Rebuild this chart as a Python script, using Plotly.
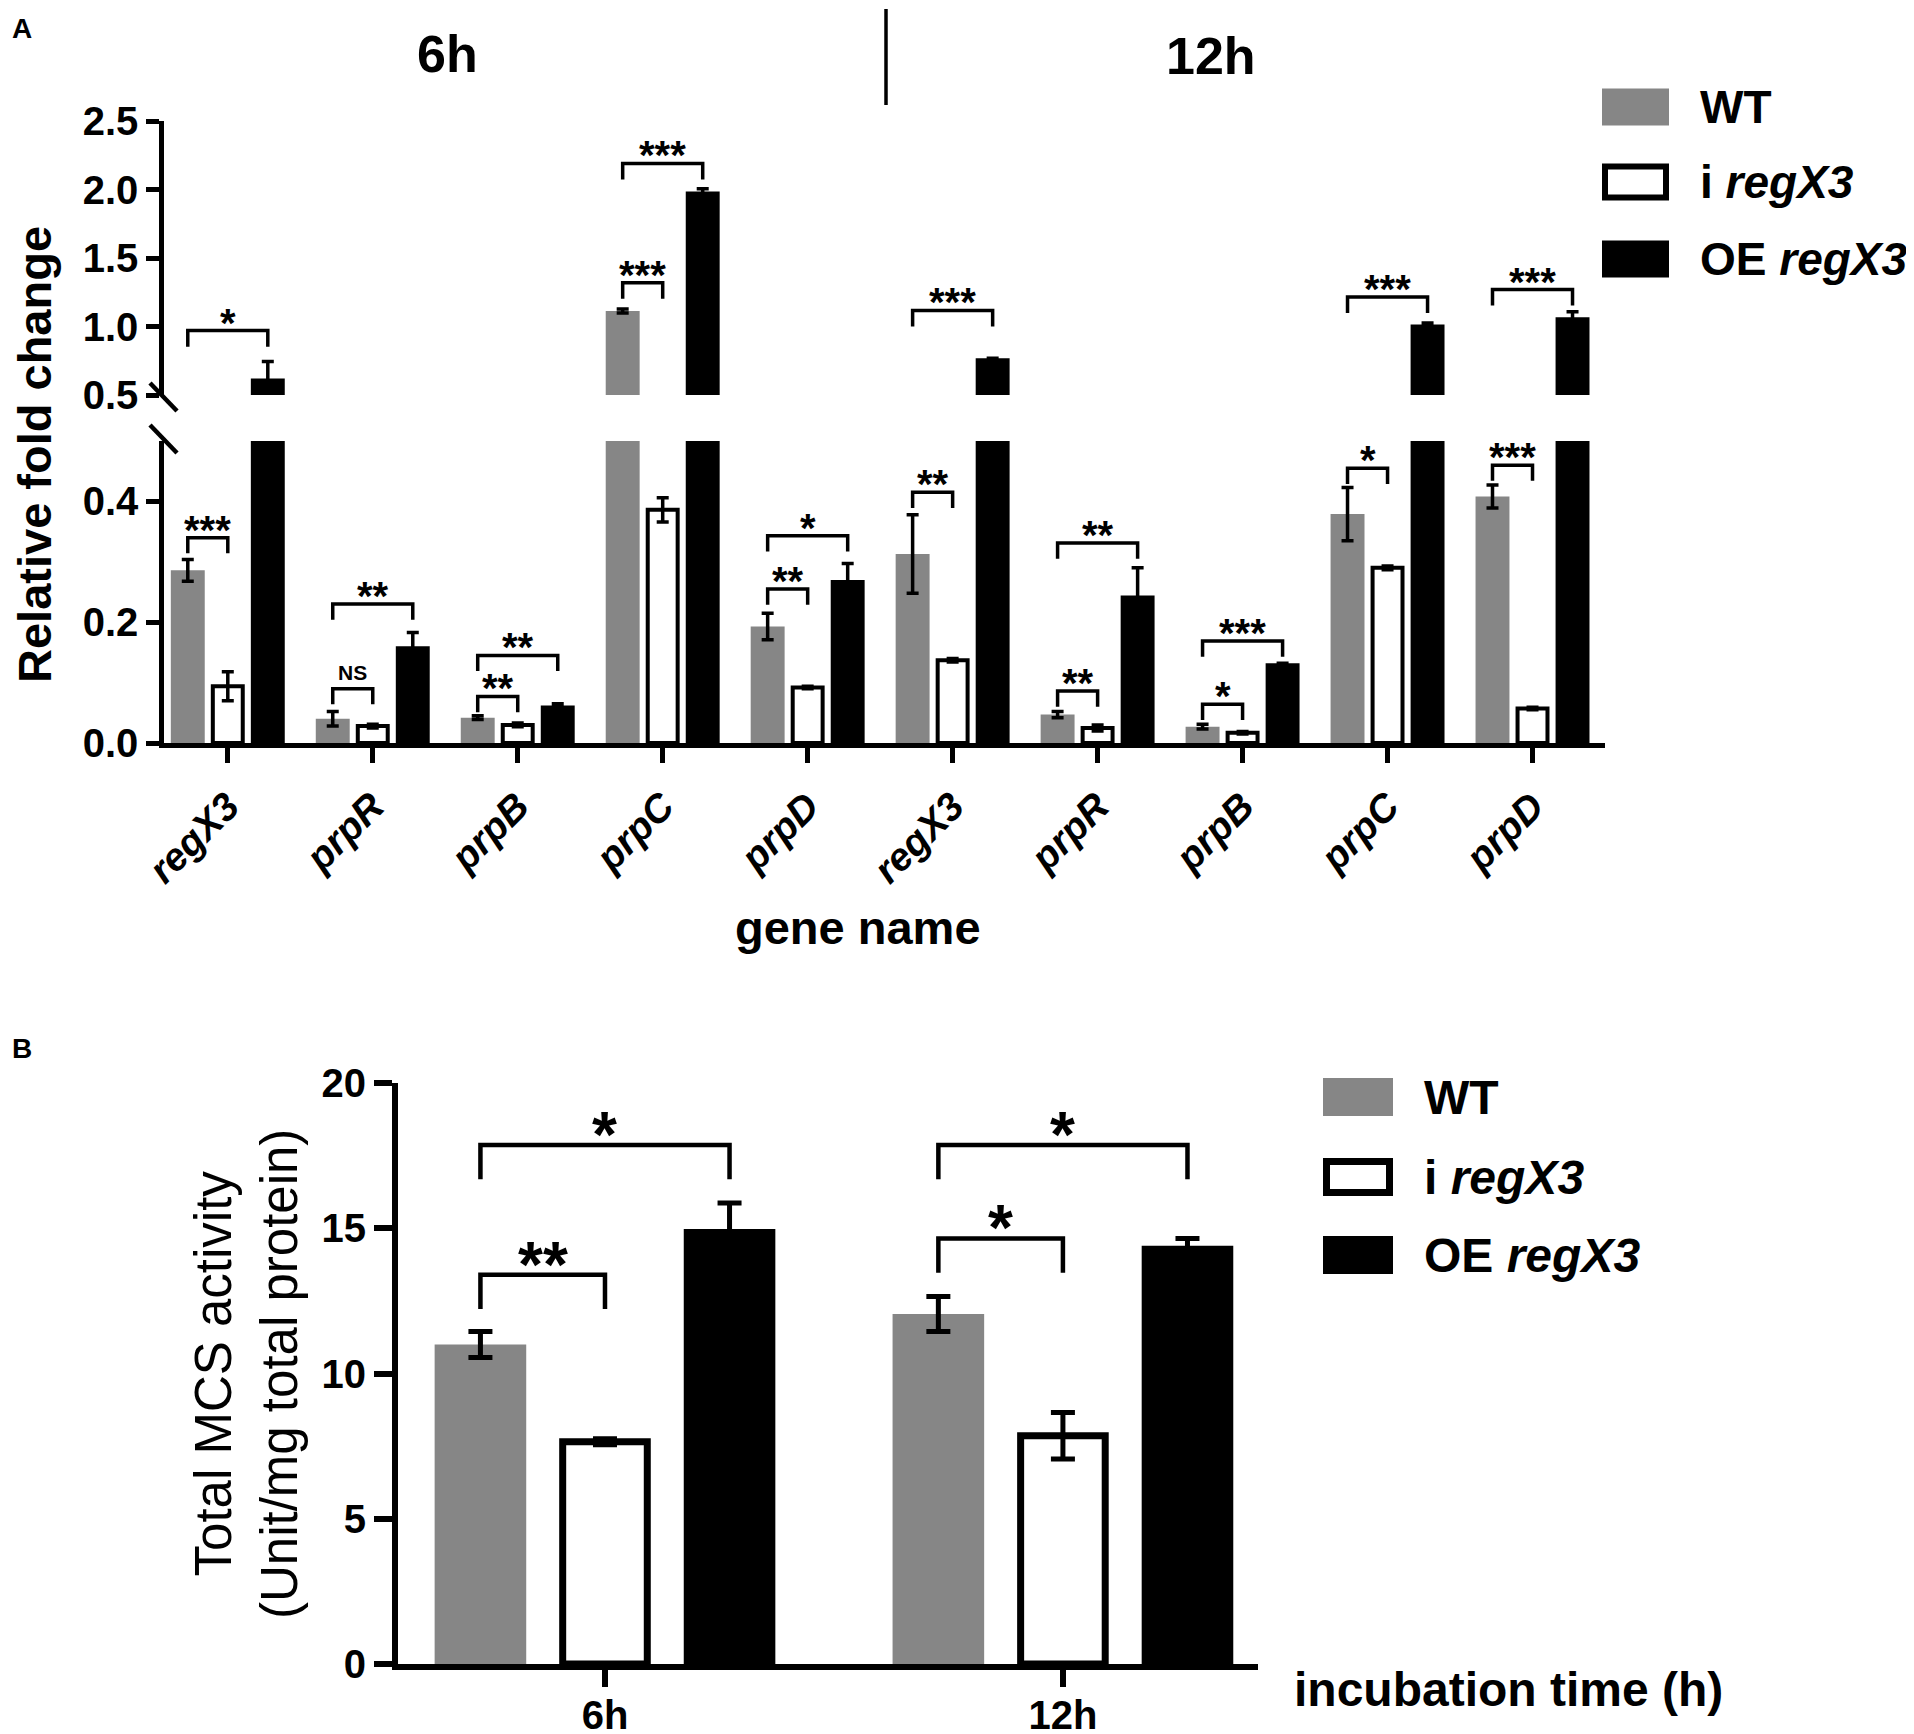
import plotly.graph_objects as go

W, H = 1914, 1734
PAD = 8  # the page body margin shifts the figure by this many pixels
FONT = 'Liberation Sans, Arial, sans-serif'
GRAY = '#868686'

# ---- panel A: relative fold change (6h | 12h) ----
genes = ['regX3', 'prpR', 'prpB', 'prpC', 'prpD', 'regX3', 'prpR', 'prpB', 'prpC', 'prpD']
a_wt = [0.286, 0.040, 0.042, 1.113, 0.193, 0.313, 0.047, 0.027, 0.379, 0.408]
a_wt_err = [0.018, 0.012, 0.003, 0.015, 0.022, 0.065, 0.005, 0.004, 0.044, 0.019]
a_i = [0.094, 0.028, 0.030, 0.386, 0.092, 0.137, 0.025, 0.017, 0.290, 0.057]
a_i_err = [0.024, 0.003, 0.003, 0.020, 0.002, 0.003, 0.005, 0.002, 0.003, 0.002]
a_oe = [0.62, 0.160, 0.062, 1.986, 0.270, 0.768, 0.244, 0.132, 1.015, 1.068]
a_oe_err = [0.125, 0.023, 0.003, 0.020, 0.027, 0.0, 0.046, 0.0, 0.010, 0.040]

# brackets: gene index, compared group (1 = i regX3, 2 = OE regX3), level, label
a_br_cat = [0, 0, 1, 1, 2, 2, 3, 3, 4, 4, 5, 5, 6, 6, 7, 7, 8, 8, 9, 9]
a_br_grp = [1, 2, 1, 2, 1, 2, 1, 2, 1, 2, 1, 2, 1, 2, 1, 2, 1, 2, 1, 2]
a_br_lvl = [0.340, 0.97, 0.090, 0.230, 0.077, 0.145, 1.32, 2.19, 0.255, 0.343,
            0.415, 1.117, 0.086, 0.331, 0.064, 0.169, 0.455, 1.216, 0.460, 1.27]
a_br_txt = ['***', '*', 'NS', '**', '**', '**', '***', '***', '**', '*',
            '**', '***', '**', '**', '*', '***', '*', '***', '***', '***']

# ---- panel B: total MCS activity ----
b_times = ['6h', '12h']
b_wt = [11.0, 12.05]
b_wt_err = [0.45, 0.6]
b_i = [7.65, 7.86]
b_i_err = [0.1, 0.8]
b_oe = [14.97, 14.40]
b_oe_err = [0.9, 0.25]

b_br_cat = [0, 0, 1, 1]
b_br_grp = [1, 2, 1, 2]
b_br_lvl = [13.4, 17.87, 14.65, 17.87]
b_br_txt = ['**', '*', '*', '*']

legend_names = ['WT', 'i <i>regX3</i>', 'OE <i>regX3</i>']


def px(x):
    return (x - PAD) / W


def py(y):
    return 1 - (y - PAD) / H


fig = go.Figure()

series_a = [(GRAY, a_wt, a_wt_err), ('white', a_i, a_i_err), ('black', a_oe, a_oe_err)]
series_b = [(GRAY, b_wt, b_wt_err), ('white', b_i, b_i_err), ('black', b_oe, b_oe_err)]


def add_bars(series, xs, xa, yaxes, slot, bw, lw, unit_px, err_th, err_w):
    for i, (fill, vals, errs) in enumerate(series):
        white = fill == 'white'
        w = bw - (lw / unit_px if white else 0)
        off = (i - 1) * slot - w / 2
        for ya in yaxes:
            fig.add_trace(go.Bar(
                x=xs, y=vals, xaxis=xa, yaxis=ya, width=w, offset=off,
                marker=dict(color=fill, line=dict(color='black', width=lw if white else 0)),
                error_y=dict(type='data', array=errs, color='black', thickness=err_th, width=err_w),
                showlegend=False))


slot_a = 0.276
add_bars(series_a, list(range(10)), 'x', ['y', 'y2'], slot_a, 0.234, 4, 145, 3.5, 6)
slot_b = 0.272
add_bars(series_b, [0, 1], 'x3', ['y3'], slot_b, 0.2, 7, 458, 5, 12)


def bracket(xref, yref, x0, x1, y, drop, label, size, lw, yshift):
    fig.add_shape(type='path', xref=xref, yref=yref,
                  path=f'M {x0},{y - drop} L {x0},{y} L {x1},{y} L {x1},{y - drop}',
                  line=dict(color='black', width=lw))
    fig.add_annotation(x=(x0 + x1) / 2, y=y, xref=xref, yref=yref, text=f'<b>{label}</b>',
                       showarrow=False, xanchor='center', yanchor='bottom', yshift=yshift,
                       font=dict(size=size, family=FONT, color='black'))


for c, g, lvl, t in zip(a_br_cat, a_br_grp, a_br_lvl, a_br_txt):
    hi = lvl > 0.5
    drop = 0.117 if hi else 0.026
    if t == 'NS':
        size, shift = 21, 3
    else:
        size, shift = 40, -16
    bracket('x', 'y2' if hi else 'y', c - slot_a, c + (g - 1) * slot_a, lvl, drop, t, size, 3.5, shift)

for c, g, lvl, t in zip(b_br_cat, b_br_grp, b_br_lvl, b_br_txt):
    bracket('x3', 'y3', c - slot_b, c + (g - 1) * slot_b, lvl, 1.18, t, 64, 4.5, -28)

axis = dict(showline=True, linecolor='black', showgrid=False, zeroline=False,
            ticks='outside', tickcolor='black', automargin=False)
tick_font = dict(family=FONT, size=40, color='black', weight='bold')

fig.update_layout(
    width=W, height=H, margin=dict(l=0, r=0, t=0, b=0, autoexpand=False),
    plot_bgcolor='white', paper_bgcolor='white', barmode='overlay', showlegend=False,
    font=dict(family=FONT, color='black'),
    xaxis=dict(axis, domain=[px(164), px(1605)], anchor='y', range=[-0.44, 9.5],
               tickvals=list(range(10)), ticktext=genes, tickangle=-45,
               tickfont=dict(family=FONT, size=39, color='black', weight='bold', style='italic'),
               linewidth=4.5, tickwidth=4.5, ticklen=15, ticklabelstandoff=5),
    yaxis=dict(axis, domain=[py(743), py(441)], anchor='x', range=[0, 0.5],
               tickvals=[0, 0.2, 0.4], tickformat='.1f', tickfont=tick_font,
               linewidth=4.5, tickwidth=4.5, ticklen=13),
    yaxis2=dict(axis, domain=[py(395), py(121)], anchor='x', range=[0.5, 2.5],
                tickvals=[0.5, 1, 1.5, 2, 2.5], tickformat='.1f', tickfont=tick_font,
                linewidth=4.5, tickwidth=4.5, ticklen=13),
    xaxis3=dict(axis, domain=[px(398), px(1258)], anchor='y3', range=[-0.452, 1.426],
                tickvals=[0, 1], ticktext=b_times, tickfont=tick_font,
                linewidth=6, tickwidth=6, ticklen=17, ticklabelstandoff=-6),
    yaxis3=dict(axis, domain=[py(1664), py(1083)], anchor='x3', range=[0, 20],
                tickvals=[0, 5, 10, 15, 20], tickfont=tick_font,
                linewidth=6, tickwidth=6, ticklen=18),
)

# axis break marks on panel A
for y0 in (383, 425):
    fig.add_shape(type='line', xref='paper', yref='paper', x0=px(150), y0=py(y0),
                  x1=px(177), y1=py(y0 + 28), line=dict(color='black', width=4.5))

# divider between 6h and 12h
fig.add_shape(type='line', xref='paper', yref='paper', x0=px(886), x1=px(886),
              y0=py(9), y1=py(105), line=dict(color='black', width=3.5))


def text(x, y, s, size, bold=True, angle=0, xanchor='center'):
    fig.add_annotation(x=px(x), y=py(y), xref='paper', yref='paper', showarrow=False,
                       text=f'<b>{s}</b>' if bold else s, textangle=angle, xanchor=xanchor,
                       yanchor='middle', font=dict(family=FONT, size=size, color='black'))


text(22, 29, 'A', 28)
text(22, 1048, 'B', 28)
text(447, 54, '6h', 52)
text(1211, 56, '12h', 52)
text(34, 455, 'Relative fold change', 47, angle=-90)
text(858, 927, 'gene name', 47)
text(246, 1374, 'Total MCS activity<br>(Unit/mg total protein)', 51, bold=False, angle=-90)
text(1508, 1689, 'incubation time (h)', 48)


def legend(x0, x1, ys, h, lw, tx, size):
    fills = [GRAY, 'white', 'black']
    for yc, fill, name in zip(ys, fills, legend_names):
        inset = lw / 2 if fill == 'white' else 0
        fig.add_shape(type='rect', xref='paper', yref='paper',
                      x0=px(x0 + inset), x1=px(x1 - inset),
                      y0=py(yc + h / 2 - inset), y1=py(yc - h / 2 + inset),
                      fillcolor=fill, line=dict(color='black', width=lw if fill == 'white' else 0))
        text(tx, yc, name, size, xanchor='left')


legend(1602, 1669, [107, 182, 259], 37, 6, 1698, 46)
legend(1323, 1393, [1097, 1177, 1255], 38, 7, 1422, 48)

fig.write_html('out.html')
